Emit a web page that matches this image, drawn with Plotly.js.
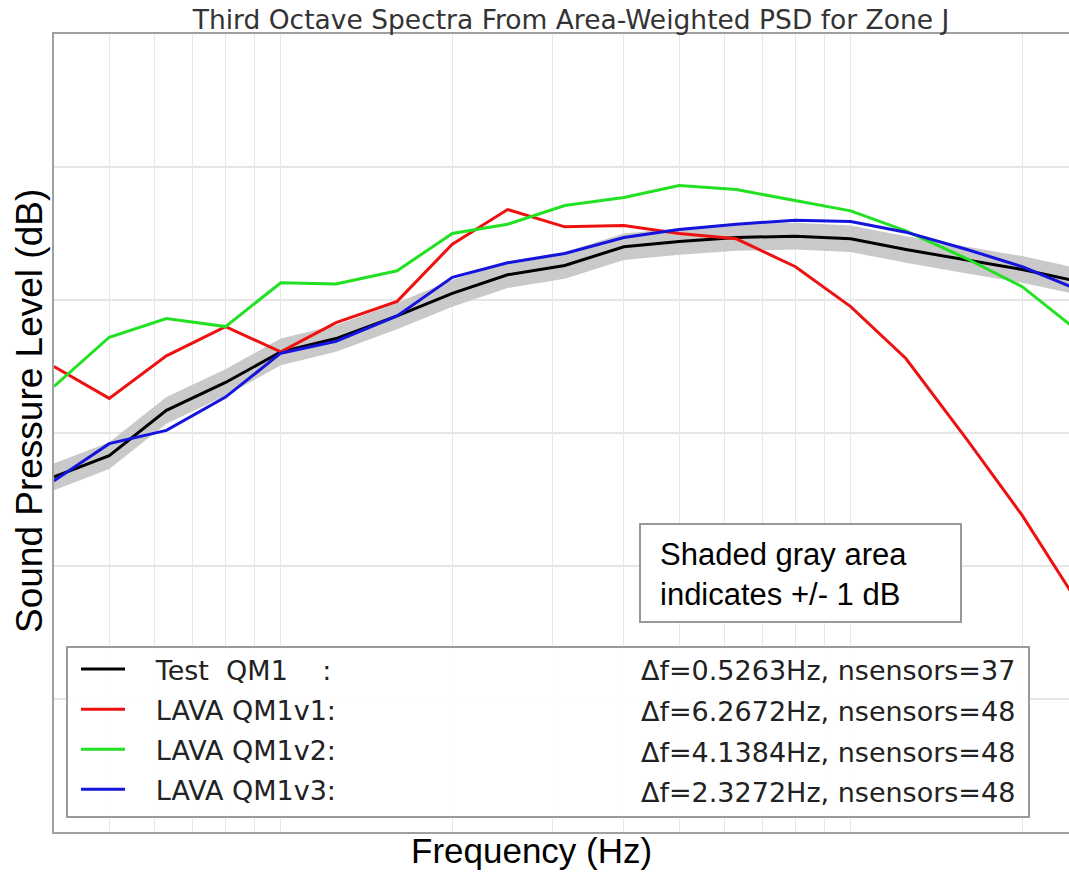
<!DOCTYPE html>
<html>
<head>
<meta charset="utf-8">
<script src="https://cdn.plot.ly/plotly-3.0.1.min.js"></script>
<style>html,body{margin:0;padding:0;background:#fff;}#chart{width:1069px;height:872px;}</style>
</head>
<body>
<div id="chart"></div>
<script>
// One-third octave band centre frequencies (Hz)
const freqs = [40, 50, 63, 80, 100, 125, 160, 200, 250, 315, 400, 500, 630, 800, 1000, 1250, 1600, 2000, 2500];
// Sound pressure levels (dB)
const testQM1 = [106.7, 108.3, 111.7, 113.8, 116.1, 117.1, 118.8, 120.5, 121.9, 122.6, 124.0, 124.4, 124.7, 124.8, 124.6, 123.8, 123.0, 122.3, 121.4];
const lavaV1  = [115.0, 112.6, 115.8, 118.0, 116.1, 118.3, 119.9, 124.2, 126.8, 125.5, 125.6, 125.0, 124.6, 122.5, 119.5, 115.6, 109.5, 103.8, 97.3];
const lavaV2  = [113.5, 117.2, 118.6, 118.0, 121.3, 121.2, 122.2, 125.0, 125.7, 127.1, 127.7, 128.6, 128.3, 127.5, 126.7, 125.2, 123.1, 121.0, 117.7];
const lavaV3  = [106.4, 109.2, 110.2, 112.7, 116.0, 116.9, 118.8, 121.7, 122.8, 123.5, 124.7, 125.3, 125.7, 126.0, 125.9, 125.1, 123.8, 122.5, 120.8];
const bandHalfWidth = 1; // +/- 1 dB
const seriesNames = ["Test  QM1    :", "LAVA QM1v1:", "LAVA QM1v2:", "LAVA QM1v3:"];
const seriesInfo = ["Δf=0.5263Hz, nsensors=37", "Δf=6.2672Hz, nsensors=48", "Δf=4.1384Hz, nsensors=48", "Δf=2.3272Hz, nsensors=48"];
const seriesColors = ["#000000", "#ee1111", "#22e022", "#1414dd"];
const titleText = "Third Octave Spectra From Area-Weighted PSD for Zone J";
const xTitle = "Frequency (Hz)";
const yTitle = "Sound Pressure Level (dB)";
const noteLines = ["Shaded gray area", "indicates +/- 1 dB"];

const upper = testQM1.map(v => v + bandHalfWidth);
const lower = testQM1.map(v => v - bandHalfWidth);

const traces = [
  {x: freqs, y: upper, type: 'scatter', mode: 'lines', line: {width: 0, color: 'rgba(0,0,0,0)'}, showlegend: false, hoverinfo: 'skip'},
  {x: freqs, y: lower, type: 'scatter', mode: 'lines', line: {width: 0, color: 'rgba(0,0,0,0)'}, fill: 'tonexty', fillcolor: '#c9c9c9', showlegend: false, hoverinfo: 'skip'}
];
const allSeries = [testQM1, lavaV1, lavaV2, lavaV3];
const legendPad = '\u00a0\u00a0\u00a0'; // gap between legend line sample and label
allSeries.forEach((s, i) => {
  traces.push({x: freqs, y: s, type: 'scatter', mode: 'lines', name: legendPad + seriesNames[i], legendgroup: 'g' + i,
    line: {color: seriesColors[i], width: 3}});
});

const L = 54, T = 34, W = 1015, H = 798;
const px = x => (x - L) / W;
const py = y => (T + H - y) / H;

const annotations = seriesInfo.map((t, i) => ({
  xref: 'paper', yref: 'paper', x: px(1017), y: py([670, 711, 752, 792][i]), xanchor: 'right', yanchor: 'middle',
  text: t, showarrow: false, font: {family: 'DejaVu Sans', size: 27, color: '#222'}
}));
annotations.push({
  xref: 'paper', yref: 'paper', x: px(658), y: py(574), xanchor: 'left', yanchor: 'middle', align: 'left',
  text: noteLines.join('<br>'), showarrow: false, font: {family: 'Liberation Sans, Arial', size: 31, color: '#000'}
});
// axis titles
annotations.push({
  xref: 'paper', yref: 'paper', x: px(531), y: py(850), xanchor: 'center', yanchor: 'middle',
  text: xTitle, showarrow: false, font: {family: 'Liberation Sans, Arial', size: 35, color: '#000'}
});
annotations.push({
  xref: 'paper', yref: 'paper', x: px(30), y: py(411), xanchor: 'center', yanchor: 'middle', textangle: -90,
  text: yTitle, showarrow: false, font: {family: 'Liberation Sans, Arial', size: 37, color: '#000'}
});

const layout = {
  width: 1069, height: 872,
  margin: {l: L, r: 0, t: T, b: 872 - T - H},
  paper_bgcolor: '#fff', plot_bgcolor: '#fff',
  title: {text: titleText, font: {family: 'DejaVu Sans', size: 26.5, color: '#333'}, xref: 'container', x: 571/1069, xanchor: 'center', y: 1 - 20/872, yanchor: 'middle'},
  xaxis: {type: 'log', range: [Math.log10(40), Math.log10(2416)], showticklabels: false, ticks: '',
    dtick: 1, showgrid: true, gridcolor: '#e6e6e6', gridwidth: 1,
    minor: {dtick: 'D1', showgrid: true, gridcolor: '#e6e6e6', gridwidth: 1, ticks: ''},
    showline: true, mirror: true, linecolor: '#a0a0a0', linewidth: 2, zeroline: false},
  yaxis: {range: [80, 140], dtick: 10, showticklabels: false, ticks: '', showgrid: true, gridcolor: '#e6e6e6', gridwidth: 2,
    showline: true, mirror: true, linecolor: '#a0a0a0', linewidth: 2, zeroline: false},
  showlegend: true,
  legend: {x: px(76), y: py(645), xanchor: 'left', yanchor: 'top', bgcolor: 'rgba(0,0,0,0)', borderwidth: 0,
    font: {family: 'DejaVu Sans', size: 27, color: '#222'}, tracegroupgap: 2, itemwidth: 44, traceorder: 'grouped'},
  shapes: [
    {type: 'rect', xref: 'paper', yref: 'paper', x0: px(67), x1: px(1029), y0: py(817), y1: py(647),
      line: {color: '#999', width: 2}, fillcolor: 'rgba(255,255,255,0.9)', layer: 'above'},
    {type: 'rect', xref: 'paper', yref: 'paper', x0: px(640), x1: px(961), y0: py(622), y1: py(524),
      line: {color: '#999', width: 2}, fillcolor: '#fff', layer: 'above'}
  ],
  annotations: annotations
};
Plotly.newPlot('chart', traces, layout, {displayModeBar: false, staticPlot: true});
</script>
</body>
</html>
